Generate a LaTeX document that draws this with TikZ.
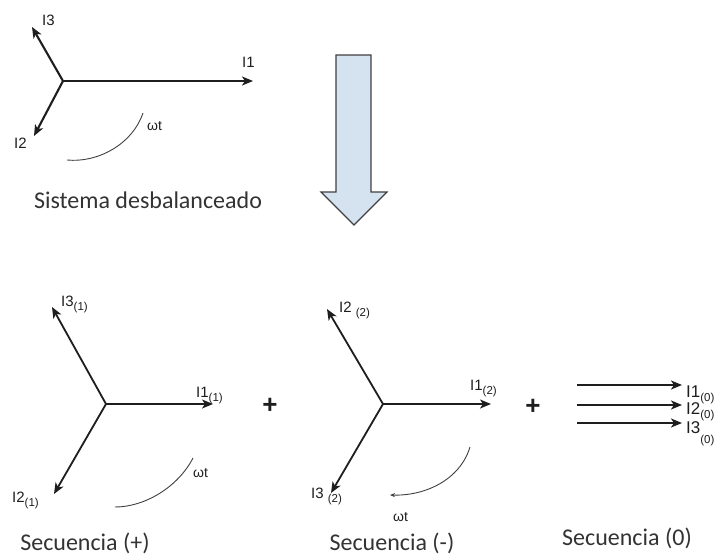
\documentclass[tikz,border=0pt]{standalone}
\usepackage{fontspec}
\setmainfont{Liberation Sans}
\newfontfamily\capfont{Carlito}
\usetikzlibrary{arrows.meta}
\definecolor{arrowblue}{HTML}{D5E3F1}
\definecolor{ink}{HTML}{1E1E1E}
\newcommand\lsub[1]{\raisebox{-4pt}{\fontsize{11.5}{11.5}\selectfont #1}}
\begin{document}
\begin{tikzpicture}[x=1pt,y=-1pt,
 vec/.style={line width=2.1pt, draw=ink, -{Stealth[length=11pt,width=9pt,inset=3pt]}},
 vecthin/.style={line width=1.8pt, draw=ink, -{Stealth[length=11pt,width=9pt,inset=3pt]}},
 rot/.style={line width=0.9pt, draw=black!75},
 lab/.style={inner sep=0pt, anchor=base west, font=\fontsize{15}{15}\selectfont, text=ink},
 labbig/.style={inner sep=0pt, anchor=base west, font=\fontsize{17}{17}\selectfont, text=ink},
 captext/.style={inner sep=0pt, font=\capfont\fontsize{24}{24}\selectfont, text=black!80},
 plussign/.style={inner sep=0pt, font=\bfseries\fontsize{26}{26}\selectfont, text=ink},
]
\useasboundingbox (0,0) rectangle (725,557);
\fill[white] (0,0) rectangle (725,557);

% ---------- top: unbalanced system ----------
\coordinate (o1) at (63,81);
\coordinate (t1a) at (253,81);
\coordinate (t1b) at (34,136);
\coordinate (t1c) at (32,27);
\draw[vec] (o1) -- (t1a);
\draw[vec] (o1) -- (t1b);
\draw[vec] (o1) -- (t1c);
\node[lab] (l1a) at (242,67) {I1};
\node[lab] (l1b) at (14,148) {I2};
\node[lab] (l1c) at (42,25) {I3};
\coordinate (r1s) at (67,160);
\coordinate (r1e) at (143,113);
\draw[rot] (r1s) .. controls (97,163) and (132,145) .. (r1e);
\node[lab, font=\fontsize{14}{14}\selectfont] (w1) at (147,130) {ωt};
\node[captext] (capA) at (148,200) {Sistema desbalanceado};

% ---------- big arrow ----------
\draw[line width=1.2pt, draw=black!75, fill=arrowblue, line join=miter]
  (336,55) -- (371,55) -- (371,192) -- (387,192) -- (354,225) -- (321,192) -- (336,192) -- cycle;

% ---------- positive sequence ----------
\coordinate (o2) at (106,404);
\coordinate (t2a) at (213,404);
\coordinate (t2b) at (54,494);
\coordinate (t2c) at (52,307);
\draw[vecthin] (o2) -- (t2a);
\draw[vecthin] (o2) -- (t2b);
\draw[vecthin] (o2) -- (t2c);
\node[lab] (l2a) at (196,397) {I1\lsub{(1)}};
\node[lab] (l2b) at (12,502) {I2\lsub{(1)}};
\node[lab] (l2c) at (61,306) {I3\lsub{(1)}};
\coordinate (r2s) at (115,507);
\coordinate (r2e) at (193,458);
\draw[rot] (r2s) .. controls (145,507) and (178,487) .. (r2e);
\node[lab, font=\fontsize{14}{14}\selectfont] (w2) at (193,477) {ωt};
\node[captext] (capB) at (85,543) {Secuencia (+)};

\node[plussign] (p1) at (270,406) {+};

% ---------- negative sequence ----------
\coordinate (o3) at (383,404);
\coordinate (t3a) at (491,404);
\coordinate (t3b) at (327,309);
\coordinate (t3c) at (331,493);
\draw[vecthin] (o3) -- (t3a);
\draw[vecthin] (o3) -- (t3b);
\draw[vecthin] (o3) -- (t3c);
\node[lab] (l3a) at (470,390) {I1\lsub{(2)}};
\node[lab] (l3b) at (339,312) {I2 \lsub{(2)}};
\node[lab] (l3c) at (311,498) {I3 \lsub{(2)}};
\coordinate (r3s) at (470,447);
\coordinate (r3e) at (390,495);
\draw[rot, -{Stealth[length=5pt,width=4pt]}] (r3s) .. controls (460,480) and (425,496) .. (r3e);
\node[lab, font=\fontsize{14}{14}\selectfont] (w3) at (393,521) {ωt};
\node[captext] (capC) at (392,543) {Secuencia (-)};

\node[plussign] (p2) at (533,407) {+};

% ---------- zero sequence ----------
\coordinate (z1s) at (577,385);
\coordinate (z1e) at (682,385);
\coordinate (z2s) at (577,405);
\coordinate (z2e) at (682,405);
\coordinate (z3s) at (577,423);
\coordinate (z3e) at (682,423);
\draw[vec] (z1s) -- (z1e);
\draw[vec] (z2s) -- (z2e);
\draw[vec] (z3s) -- (z3e);
\node[labbig] (l4a) at (686,397) {I1\lsub{(0)}};
\node[labbig] (l4b) at (686,414) {I2\lsub{(0)}};
\node[labbig] (l4c) at (686,433) {I3\raisebox{-10pt}{\fontsize{11.5}{11.5}\selectfont (0)}};
\node[captext] (capD) at (627,538) {Secuencia (0)};
\end{tikzpicture}
\end{document}
